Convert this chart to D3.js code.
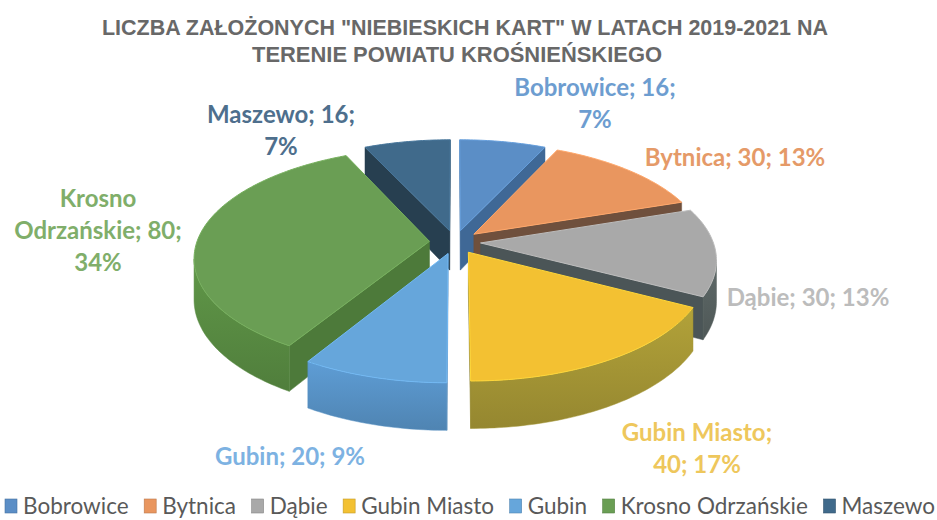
<!DOCTYPE html>
<html><head><meta charset="utf-8">
<script src="https://cdn.jsdelivr.net/npm/d3@7"></script>
<style>body{margin:0;background:#fff}svg{display:block}</style>
</head><body>
<svg id="chart" width="937" height="520"></svg>
<script>
// ---------- data ----------
const categories = ["Bobrowice", "Bytnica", "Dąbie", "Gubin Miasto", "Gubin", "Krosno Odrzańskie", "Maszewo"];
const values = [16, 30, 30, 40, 20, 80, 16];
const titleLines = ['LICZBA ZAŁOŻONYCH "NIEBIESKICH KART" W LATACH 2019-2021 NA', 'TERENIE POWIATU KROŚNIEŃSKIEGO'];

// ---------- styles ----------
const topColors   = ["#5b8ec6", "#e9965f", "#a9a9a9", "#f3c132", "#66a6db", "#6a9e54", "#406a8b"];
const sideColors  = ["#46729f", "#9a6446", "#56605f", "#a39434", "#5690c3", "#588a42", "#2f4b60"];
const cutColors   = ["#3f6896", "#6f503d", "#4b5557", "#8a7f2c", "#4a7fb0", "#4d7a3a", "#273f50"];
const labelColors = ["#6d9dd0", "#e59a68", "#bcbcbc", "#eec75c", "#7db2e2", "#80ae6a", "#4e6f8d"];
// label layout: anchor centre x, first baseline y, wrap mode
const labelLayout = [
  {x: 595, y: 96,  mode: "nameValue|pct"},
  {x: 735, y: 166, mode: "single"},
  {x: 808, y: 306, mode: "single"},
  {x: 697, y: 441, mode: "name|valuePct"},
  {x: 290, y: 465, mode: "single"},
  {x: 98,  y: 207, mode: "word|restValue|pct"},
  {x: 281, y: 123, mode: "nameValue|pct"}
];

const svg = d3.select("#chart");

// ---------- title ----------
const titleFont = "'Liberation Sans Narrow','Arial Narrow','Liberation Sans',Arial,sans-serif";
const titleSpecs = [{cx: 465, y: 35, len: 726}, {cx: 457, y: 62, len: 410}];
titleLines.forEach((t, k) => {
  svg.append("text")
    .attr("x", titleSpecs[k].cx).attr("y", titleSpecs[k].y)
    .attr("text-anchor", "middle")
    .attr("font-family", titleFont).attr("font-weight", "bold").attr("font-size", 22.5)
    .attr("fill", "#686868")
    .attr("textLength", titleSpecs[k].len).attr("lengthAdjust", "spacingAndGlyphs")
    .text(t);
});

// ---------- 3D pie geometry ----------
const cx = 455, cy = 242, rx = 232.6, ry = 107, q = 0.144, depth = 40, explode = 0.11;
function proj(u, v, z) {
  const s = 1 / (1 + q * v);
  return [cx + rx * u * s, cy - ry * v * s + z * depth * s];
}
function area(pts) {
  let a = 0;
  for (let i = 0; i < pts.length; i++) {
    const p = pts[i], n = pts[(i + 1) % pts.length];
    a += p[0] * n[1] - n[0] * p[1];
  }
  return a / 2;
}
const line = d3.line().curve(d3.curveLinearClosed);

const arcs = d3.pie().sort(null).startAngle(0).endAngle(2 * Math.PI)(values);
const total = d3.sum(values);
const slices = arcs.map((d, i) => {
  const m = (d.startAngle + d.endAngle) / 2;
  return {d, i, ou: explode * Math.sin(m), ov: explode * Math.cos(m)};
});
const order = slices.slice().sort((a, b) => b.ov - a.ov);

const defs = svg.append("defs");
const gPie = svg.append("g");

order.forEach(s => {
  const {d, i, ou, ov} = s;
  const rim = (a, z) => proj(ou + Math.sin(a), ov + Math.cos(a), z);
  const apex = z => proj(ou, ov, z);
  const n = Math.max(4, Math.ceil((d.endAngle - d.startAngle) / (Math.PI / 180)));
  const angs = d3.range(n + 1).map(k => d.startAngle + (d.endAngle - d.startAngle) * k / n);
  const g = gPie.append("g");

  const gid = "side" + i;
  const lg = defs.append("linearGradient").attr("id", gid).attr("x1", 0).attr("y1", 0).attr("x2", 0).attr("y2", 1);
  lg.append("stop").attr("offset", "0%").attr("stop-color", d3.color(sideColors[i]).brighter(0.25));
  lg.append("stop").attr("offset", "100%").attr("stop-color", d3.color(sideColors[i]).darker(0.25));

  const startFace = [apex(0), rim(d.startAngle, 0), rim(d.startAngle, 1), apex(1)];
  const endFace = [apex(0), rim(d.endAngle, 0), rim(d.endAngle, 1), apex(1)];
  if (area(startFace) < 0) g.append("path").attr("d", line(startFace)).attr("fill", cutColors[i]).attr("stroke", cutColors[i]).attr("stroke-width", 0.5);
  if (area(endFace) > 0) g.append("path").attr("d", line(endFace)).attr("fill", cutColors[i]).attr("stroke", cutColors[i]).attr("stroke-width", 0.5);

  let run = [];
  const flush = () => {
    if (run.length > 1) {
      const pts = run.map(a => rim(a, 0)).concat(run.slice().reverse().map(a => rim(a, 1)));
      g.append("path").attr("d", line(pts)).attr("fill", `url(#${gid})`).attr("stroke", sideColors[i]).attr("stroke-width", 0.5);
    }
    run = [];
  };
  for (let k = 0; k < n; k++) {
    const a0 = angs[k], a1 = angs[k + 1];
    const quad = [rim(a0, 0), rim(a1, 0), rim(a1, 1), rim(a0, 1)];
    if (area(quad) < 0) {
      if (run.length === 0) run.push(a0);
      run.push(a1);
    } else flush();
  }
  flush();

  const topPts = [apex(0)].concat(angs.map(a => rim(a, 0)));
  g.append("path").attr("d", line(topPts))
    .attr("fill", topColors[i])
    .attr("stroke", d3.color(topColors[i]).brighter(0.3)).attr("stroke-width", 1)
    .attr("stroke-linejoin", "round");
});

// ---------- data labels ----------
const labelFont = "Lato,'Open Sans','Noto Sans',sans-serif";
slices.forEach(s => {
  const i = s.i;
  const name = categories[i], val = values[i];
  const pct = Math.round(val / total * 100) + "%";
  const L = labelLayout[i];
  let lines;
  if (L.mode === "single") lines = [`${name}; ${val}; ${pct}`];
  else if (L.mode === "nameValue|pct") lines = [`${name}; ${val};`, pct];
  else if (L.mode === "name|valuePct") lines = [`${name};`, `${val}; ${pct}`];
  else {
    const w = name.split(" ");
    lines = [w[0], `${w.slice(1).join(" ")}; ${val};`, pct];
  }
  const t = svg.append("text")
    .attr("text-anchor", "middle")
    .attr("font-family", labelFont).attr("font-weight", "bold").attr("font-size", 24)
    .attr("fill", labelColors[i]);
  lines.forEach((ln, k) => t.append("tspan").attr("x", L.x).attr("y", L.y + k * 32).text(ln));
});

// ---------- legend ----------
const legendY = 514, legLeft = 5, legRight = 935, sq = 12, sqGap = 6;
const leg = svg.append("g");
const items = categories.map((c, i) => {
  const g = leg.append("g");
  g.append("rect").attr("width", sq).attr("height", 14).attr("y", legendY - 15).attr("fill", topColors[i])
    .attr("stroke", d3.color(topColors[i]).darker(0.6)).attr("stroke-width", 0.6);
  const tx = g.append("text").attr("x", sq + sqGap).attr("y", legendY)
    .attr("font-family", labelFont).attr("font-size", 22.5).attr("fill", "#595959").text(c);
  return {g, w: sq + sqGap + tx.node().getComputedTextLength()};
});
const sumW = d3.sum(items, d => d.w);
const gap = (legRight - legLeft - sumW) / (items.length - 1);
let xx = legLeft;
items.forEach(it => { it.g.attr("transform", `translate(${xx},0)`); xx += it.w + gap; });
</script>
</body></html>
